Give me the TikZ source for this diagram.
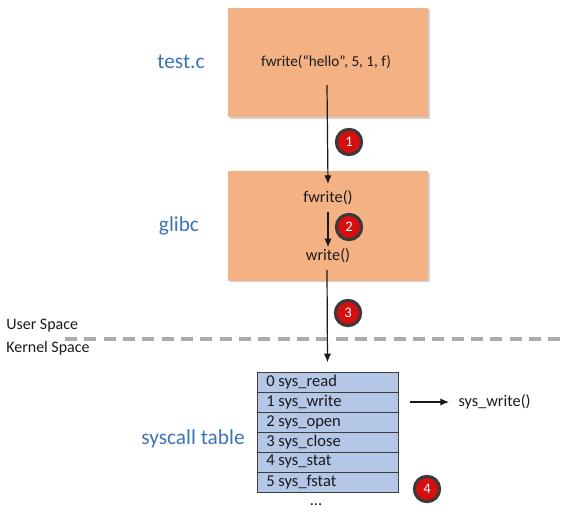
\documentclass[tikz,border=0pt]{standalone}
\usepackage{fontspec}
\setmainfont{Carlito}
\usetikzlibrary{arrows.meta,shadows}
\definecolor{ink}{HTML}{1A1A1A}
\definecolor{boxfill}{HTML}{F4B183}
\definecolor{tablefill}{HTML}{B4C7E7}
\definecolor{layerblue}{HTML}{3B74B5}
\definecolor{badgered}{HTML}{D50E0E}
\definecolor{badgering}{HTML}{3A3A3A}
\definecolor{dashgray}{HTML}{ABABAB}
\tikzset{
  every picture/.style={font=\fontsize{12.2}{14}\selectfont},
  stagebox/.style={draw=none,fill=boxfill,minimum width=150pt,minimum height=82pt,
    drop shadow={shadow xshift=1.2pt,shadow yshift=-1.2pt,opacity=.35}},
  calltext/.style={text=ink,inner sep=1pt},
  layerlabel/.style={font=\fontsize{16}{18}\selectfont,text=layerblue},
  spacelabel/.style={font=\fontsize{12}{14}\selectfont,text=ink,anchor=west,inner sep=0pt},
  tablerow/.style={draw=ink!85,fill=tablefill,line width=.6pt,minimum width=105.75pt,
    minimum height=15pt,inner sep=0pt},
  rowtext/.style={anchor=west,inner sep=0pt,text=ink,font=\fontsize{12.4}{14}\selectfont},
  flow/.style={-{Latex[length=6.5pt,width=5.5pt]},draw=ink,line width=.9pt},
  badge/.style={circle,fill=badgered,draw=badgering,line width=2.3pt,inner sep=0pt,
    minimum size=19pt,text=white,font=\fontsize{11}{12}\selectfont},
}
\begin{document}
\begin{tikzpicture}[x=0.75pt,y=-0.75pt]
  \useasboundingbox (0,0) rectangle (567,517);

  % User space: the program and the C library.
  \node[stagebox] (boxtest) at (328,62.5) {};
  \node[calltext,font=\fontsize{11.4}{13}\selectfont] (fwcall) at (326,62) {fwrite(“hello”, 5, 1, f)};
  \node[layerlabel] (labtest) at (181,62) {test.c};
  \node[stagebox] (boxglibc) at (328,226) {};
  \node[calltext] (fw) at (328,198) {fwrite()};
  \node[calltext] (wr) at (328,256) {write()};
  \node[layerlabel] (labglibc) at (179,226) {glibc};

  % Boundary between user and kernel space.
  \coordinate (dashL) at (65,339);
  \coordinate (dashR) at (567,339);
  \draw[dashgray,line width=2.4pt,dash pattern=on 9pt off 5.5pt] (dashL) -- (dashR);
  \node[spacelabel] (user) at (6,326) {User Space};
  \node[spacelabel] (kernel) at (6,348) {Kernel Space};

  % Kernel space: the syscall table.
  \foreach \i/\name in {0/read,1/write,2/open,3/close,4/stat,5/fstat} {
    \node[tablerow] (row\i) at (327.5,382+20*\i) {};
    \node[rowtext] at (266,382+20*\i) {\i\ sys\_\name};
  }
  \node[layerlabel] (labtable) at (193,439) {syscall table};
  \node[text=ink] (more) at (316,505) {...};
  \node[calltext,anchor=west] (syswrite) at (457,402) {sys\_write()};
  \coordinate (swstart) at (410,402);

  % Call chain with numbered steps.
  \coordinate (a1) at (327,85);
  \coordinate (a3) at (327,270);
  \draw[flow] (a1) -- ([yshift=4pt]fw.north);
  \draw[flow] (fw.south) ++(0,5) coordinate (a2) -- (wr.north);
  \draw[flow] (a3) -- ([yshift=7pt]row0.north);
  \draw[flow,shorten >=6pt] (swstart) -- (syswrite.west);
  \node[badge] (b1) at (349,142) {1};
  \node[badge] (b2) at (349,227) {2};
  \node[badge] (b3) at (348,313) {3};
  \node[badge] (b4) at (427,489) {4};
\end{tikzpicture}
\end{document}
